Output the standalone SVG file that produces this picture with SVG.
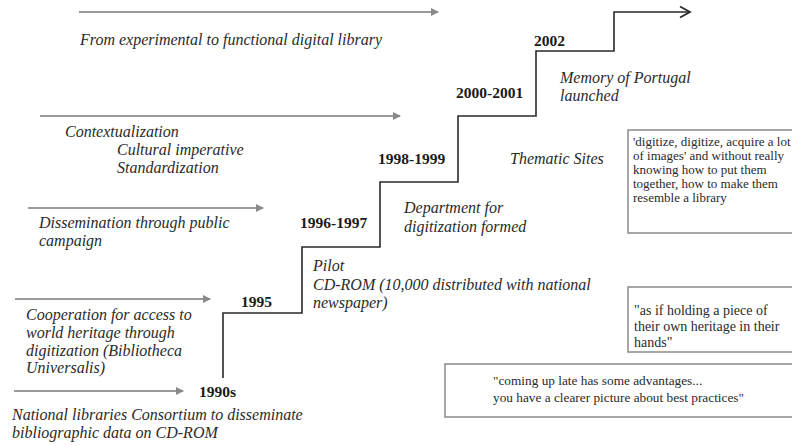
<svg xmlns="http://www.w3.org/2000/svg" width="792" height="446" viewBox="0 0 792 446">
<style>
text{font-family:"Liberation Serif","Times New Roman",serif;fill:#2a2a2a}
.it{font-style:italic;font-size:16px}
.yr{font-weight:bold;font-size:15.5px;fill:#1a1a1a}
.q{font-size:13px}
.q2{font-size:14px}
.q3{font-size:13.3px}
.ga{stroke:#9a9a9a;stroke-width:2;fill:none;marker-end:url(#gh)}
.box{fill:#fff;stroke:#8a8a8a;stroke-width:1.5}
.stair{stroke:#2a2a2a;stroke-width:1.6;fill:none;marker-end:url(#bh)}
</style>
<defs>
<marker id="gh" markerWidth="8" markerHeight="8" refX="7" refY="4" orient="auto" markerUnits="userSpaceOnUse">
<path d="M0,0 L8,4 L0,8 Z" fill="#8a8a8a"/>
</marker>
<marker id="bh" markerWidth="14" markerHeight="14" refX="12" refY="7" orient="auto" markerUnits="userSpaceOnUse">
<path d="M2,1.5 L12,7 L2,12.5" fill="none" stroke="#2a2a2a" stroke-width="1.8"/>
</marker>
</defs>
<rect width="792" height="446" fill="#fff"/>
<g id="connectors">
<line class="ga" x1="79" y1="12" x2="438" y2="12"/>
<line class="ga" x1="40" y1="116" x2="400" y2="116"/>
<line class="ga" x1="28" y1="208" x2="263" y2="208"/>
<line class="ga" x1="15" y1="299" x2="210" y2="299"/>
<line class="ga" x1="14" y1="391" x2="183" y2="391"/>
<path class="stair" d="M223,378 V313 H302 V247 H380 V182 H458 V116 H536 V51 H614 V12 H690"/>
</g>
<g id="theme-functional"><text class="it" x="80" y="45">From experimental to functional digital library</text></g>
<g id="theme-context">
<text class="it" x="65" y="137">Contextualization</text>
<text class="it" x="117" y="155">Cultural imperative</text>
<text class="it" x="117" y="173">Standardization</text>
</g>
<g id="theme-dissemination">
<text class="it" x="39" y="228">Dissemination through public</text>
<text class="it" x="39" y="246">campaign</text>
</g>
<g id="theme-cooperation">
<text class="it" x="26" y="320">Cooperation for access to</text>
<text class="it" x="26" y="338">world heritage through</text>
<text class="it" x="26" y="356">digitization (Bibliotheca</text>
<text class="it" x="26" y="373">Universalis)</text>
</g>
<g id="theme-consortium">
<text class="it" x="12" y="420">National libraries Consortium to disseminate</text>
<text class="it" x="12" y="438">bibliographic data on CD-ROM</text>
</g>
<g id="y1990s"><text class="yr" x="199" y="397">1990s</text></g>
<g id="y1995"><text class="yr" x="241" y="307">1995</text></g>
<g id="y1996"><text class="yr" x="300" y="228">1996-1997</text></g>
<g id="y1998"><text class="yr" x="378" y="164">1998-1999</text></g>
<g id="y2000"><text class="yr" x="456" y="98">2000-2001</text></g>
<g id="y2002"><text class="yr" x="534" y="46">2002</text></g>
<g id="ev-pilot">
<text class="it" x="313" y="271">Pilot</text>
<text class="it" x="313" y="290">CD-ROM (10,000 distributed with national</text>
<text class="it" x="313" y="308">newspaper)</text>
</g>
<g id="ev-department">
<text class="it" x="404" y="213">Department for</text>
<text class="it" x="404" y="232">digitization formed</text>
</g>
<g id="ev-thematic"><text class="it" x="510" y="164">Thematic Sites</text></g>
<g id="ev-memory">
<text class="it" x="560" y="83">Memory of Portugal</text>
<text class="it" x="560" y="101">launched</text>
</g>
<g id="quote1">
<rect class="box" x="628" y="130" width="170" height="103"/>
<text class="q" x="633" y="146">'digitize, digitize, acquire a lot</text>
<text class="q" x="633" y="160">of images' and without really</text>
<text class="q" x="633" y="174">knowing how to put them</text>
<text class="q" x="633" y="188">together, how to make them</text>
<text class="q" x="633" y="202">resemble a library</text>
</g>
<g id="quote2">
<rect class="box" x="628" y="287" width="170" height="65"/>
<text class="q2" x="634" y="315">"as if holding a piece of</text>
<text class="q2" x="634" y="331">their own heritage in their</text>
<text class="q2" x="634" y="347">hands"</text>
</g>
<g id="quote3">
<rect class="box" x="445" y="364" width="360" height="53"/>
<text class="q3" x="493" y="385">"coming up late has some advantages...</text>
<text class="q3" x="493" y="402">you have a clearer picture about best practices"</text>
</g>
</svg>
